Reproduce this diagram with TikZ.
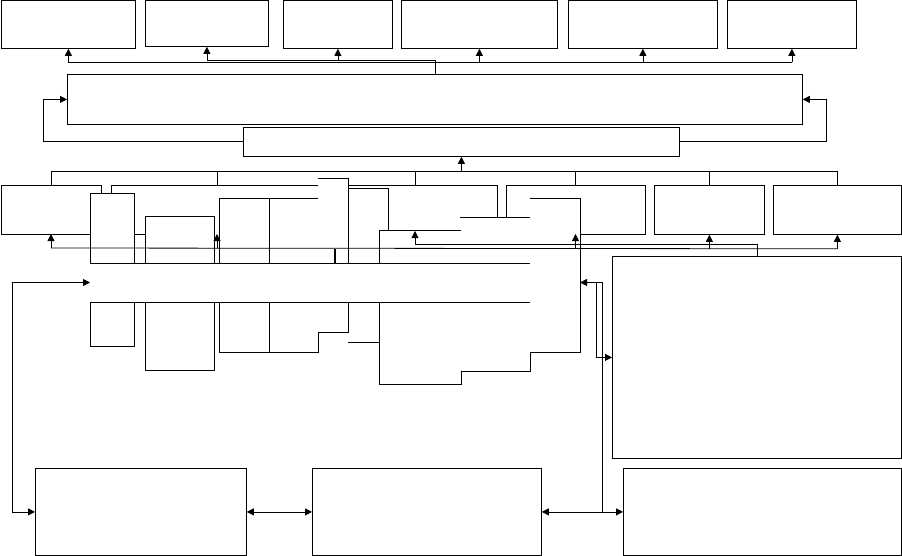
\documentclass[tikz,border=0pt]{standalone}
\usetikzlibrary{arrows.meta}

\tikzset{
  blk/.style 2 args={draw, line width=0.8pt, inner sep=0pt, anchor=north west,
    minimum width=#1, minimum height=#2},
  arr/.style={-{Triangle[length=7pt,width=7pt]}},
  dbl/.style={{Triangle[length=7pt,width=7pt]}-{Triangle[length=7pt,width=7pt]}},
}

\begin{document}
\begin{tikzpicture}[x=1pt, y=-1pt, line width=0.8pt]
    \useasboundingbox (0,0) rectangle (902,556);

    \begin{scope}
        \node[blk={134}{47.5}] (T1) at (1,0.5) {};
        \node[blk={123}{45.5}] (T2) at (145,0.5) {};
        \node[blk={109}{47.5}] (T3) at (283,0.5) {};
        \node[blk={156}{47.5}] (T4) at (401,0.5) {};
        \node[blk={149}{47.5}] (T5) at (568,0.5) {};
        \node[blk={129}{47.5}] (T6) at (727,0.5) {};
        \node[blk={735}{50}] (B1) at (67,74) {};
        \node[blk={436}{29}] (B2) at (243,127) {};
        \node[blk={110}{49}] (M5) at (654,185) {};
        \node[blk={128}{49}] (M6) at (773,185) {};
        \node[blk={289}{202}] (R) at (612,256) {};
        \node[blk={211}{87}] (L1) at (35,468) {};
        \node[blk={229}{87}] (L2) at (312,468) {};
        \node[blk={278}{87}] (L3) at (623,468) {};
        \coordinate (m1) at (51,185);
        \coordinate (m2) at (217,185);
        \coordinate (m3) at (415,185);
        \coordinate (m4) at (575.5,185);
        \coordinate (m1b) at (51,234);
        \coordinate (m2b) at (217,234);
        \coordinate (m4b) at (575.5,234);
        \coordinate (m3c) at (415,231);
        \coordinate (bandL) at (90,282.5);
        \coordinate (bandR) at (580,282.5);
    \end{scope}

    % broken boxes in the middle
    \begin{scope}
    \draw (101,193) -- (101,185) -- (1,185) -- (1,234) -- (90,234);
    \draw (134,234) -- (145,234);
    \draw (111,193) -- (111,185) -- (318,185);
    \draw (318,178) -- (348,178) -- (348,263);
    \draw (348,185) -- (497,185) -- (497,217);
    \draw (506,217) -- (506,185) -- (645,185) -- (645,234) -- (580,234);
    \draw (348,188) -- (388,188) -- (388,230);
    \draw (379,263) -- (379,230) -- (461,230);
    \draw (460,217) -- (530,217);
    \draw (530,198) -- (580,198) -- (580,352) -- (530,352) -- (530,371.5)
        -- (461,371.5) -- (461,384) -- (379,384) -- (379,302);
    \draw (90,263) -- (90,193) -- (134,193) -- (134,263);
    \draw (90,302) -- (90,346) -- (134,346) -- (134,302);
    \draw (145,263) -- (145,216.5) -- (214,216.5) -- (214,263);
    \draw (145,302) -- (145,370) -- (214,370) -- (214,302);
    \draw (219,263) -- (219,198) -- (318,198);
    \draw (269,198) -- (269,263);
    \draw (219,302) -- (219,352) -- (318,352) -- (318,332) -- (348,332) -- (348,302);
    \draw (269,302) -- (269,352);
    \draw (348,342) -- (379,342);
    \draw (90,263) -- (530,263);
    \draw (90,302) -- (530,302);
    \draw[line width=2pt] (335,249) -- (335,263);
    \end{scope}

    \begin{scope}
    \draw[arr] (B1.north) |- ([yshift=-13.5pt]T2.south) -- (T2.south);
    \draw[arr] ([yshift=-11.5pt]T3.south) -- (T3.south);
    \draw ([yshift=-13.5pt]T1.south) -- ([yshift=-13.5pt]T6.south);
    \foreach \t in {T1,T4,T5,T6}
        \draw[arr] ([yshift=-13.5pt]\t.south) -- (\t.south);
    \draw[arr] (B2.west) -| ([xshift=-24pt]B1.west) -- (B1.west);
    \draw[arr] (B2.east) -| ([xshift=24pt]B1.east) -- (B1.east);
    \draw[arr] ([yshift=-15pt]B2.south) -- (B2.south);
    \draw ([yshift=14pt]m1) -- ([yshift=14pt]M6.north);
    \foreach \m in {m1,m2,m3,m4,M5.north,M6.north}
        \draw ([yshift=14pt]\m) -- (\m);
    \draw ([yshift=-14pt]m1b) -- ([yshift=-14pt]M6.south);
    \foreach \m in {m1b,m2b,m4b,M5.south,M6.south}
        \draw[arr] ([yshift=-14pt]\m) -- (\m);
    \draw[arr] (R.north) |- ([yshift=-13pt]m3c) -- (m3c);
    \draw[dbl] (bandL) -| ([xshift=-23pt]L1.west) -- (L1.west);
    \draw[arr] ([xshift=-21pt]L3.west) |- (bandR);
    \draw[arr] ([xshift=16pt]bandR) |- (R.west);
    \path [dbl] (L1.east) edge (L2.west);
    \path [dbl] (L2.east) edge (L3.west);
    \end{scope}

\end{tikzpicture}
\end{document}
